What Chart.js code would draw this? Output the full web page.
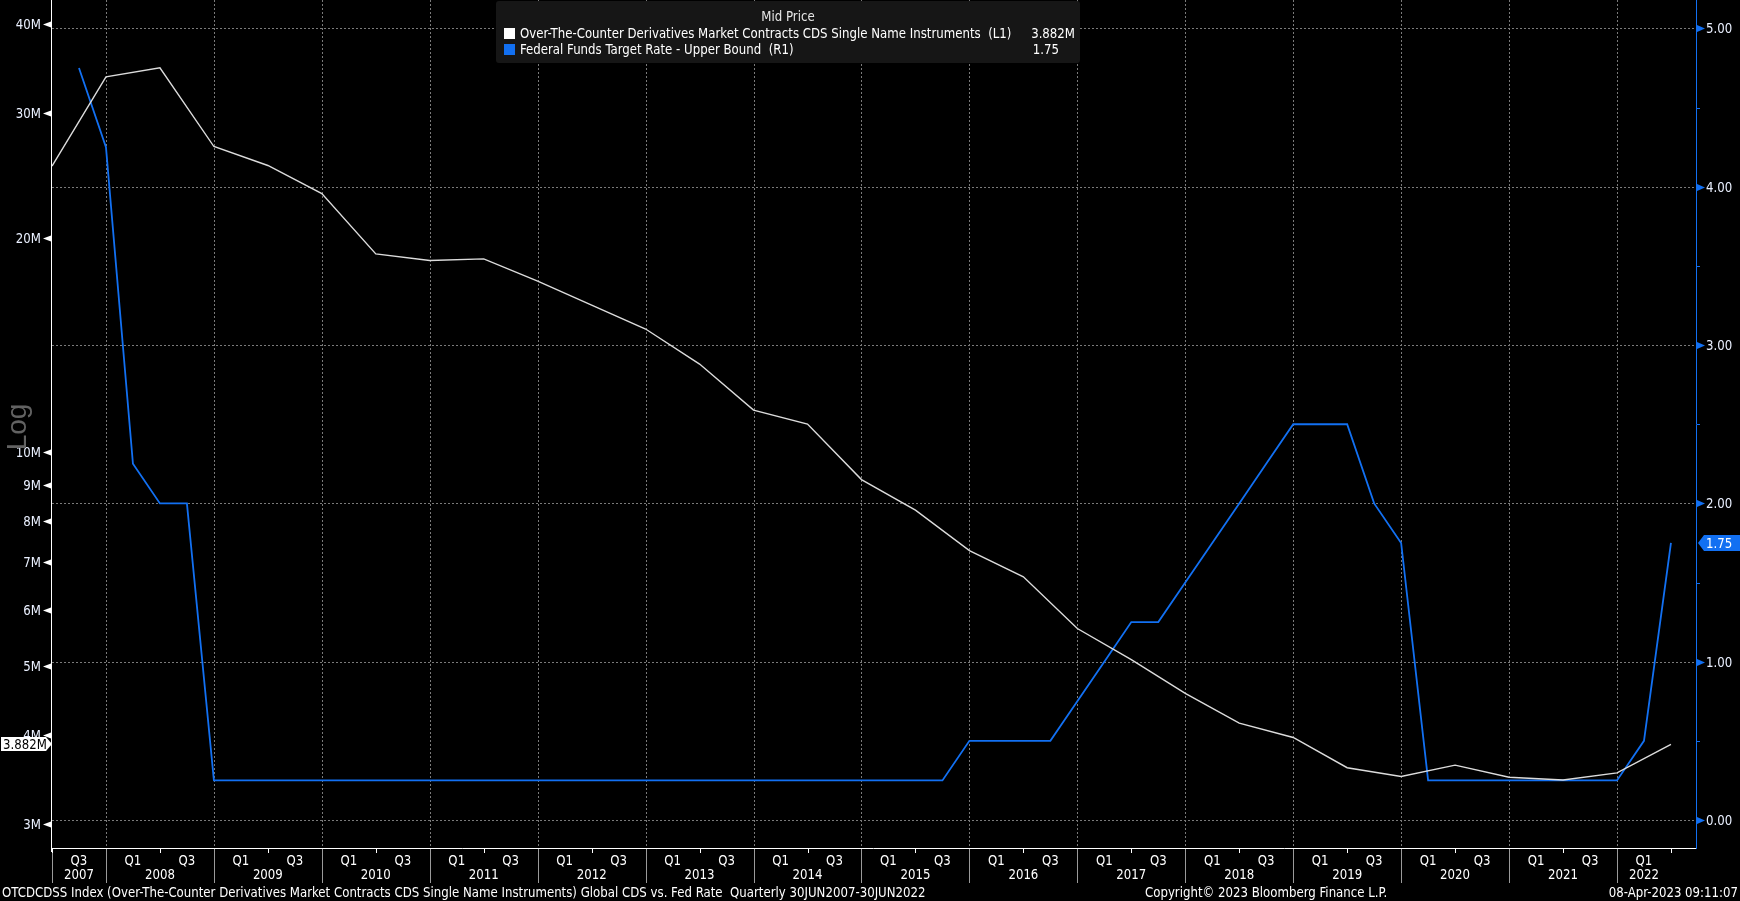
<!DOCTYPE html>
<html><head><meta charset="utf-8">
<script src="https://cdn.jsdelivr.net/npm/chart.js@4.4.1/dist/chart.umd.min.js"></script>
<style>html,body{margin:0;padding:0;background:#000;overflow:hidden}canvas{display:block}</style>
</head><body>
<canvas id="c" width="1740" height="901"></canvas>
<script>
// ---------- DATA ----------
const cdsDates = ['2007-06','2007-12','2008-06','2008-12','2009-06','2009-12','2010-06','2010-12',
  '2011-06','2011-12','2012-06','2012-12','2013-06','2013-12','2014-06','2014-12','2015-06','2015-12',
  '2016-06','2016-12','2017-06','2017-12','2018-06','2018-12','2019-06','2019-12','2020-06','2020-12',
  '2021-06','2021-12','2022-06'];
const cdsValues = [25.25, 33.7, 34.7, 26.9, 25.3, 23.1, 19.0, 18.6,
  18.7, 17.4, 16.1, 14.9, 13.3, 11.46, 10.95, 9.15, 8.29, 7.27,
  6.68, 5.65, 5.11, 4.58, 4.16, 3.97, 3.60, 3.50, 3.63, 3.49,
  3.46, 3.54, 3.882]; // millions
const fedDates = ['2007-09','2007-12',
  '2008-03','2008-06','2008-09','2008-12','2009-03','2009-06','2009-09','2009-12',
  '2010-03','2010-06','2010-09','2010-12','2011-03','2011-06','2011-09','2011-12',
  '2012-03','2012-06','2012-09','2012-12','2013-03','2013-06','2013-09','2013-12',
  '2014-03','2014-06','2014-09','2014-12','2015-03','2015-06','2015-09','2015-12',
  '2016-03','2016-06','2016-09','2016-12','2017-03','2017-06','2017-09','2017-12',
  '2018-03','2018-06','2018-09','2018-12','2019-03','2019-06','2019-09','2019-12',
  '2020-03','2020-06','2020-09','2020-12','2021-03','2021-06','2021-09','2021-12',
  '2022-03','2022-06'];
const fedValues = [4.75, 4.25,
  2.25, 2.00, 2.00, 0.25, 0.25, 0.25, 0.25, 0.25,
  0.25, 0.25, 0.25, 0.25, 0.25, 0.25, 0.25, 0.25,
  0.25, 0.25, 0.25, 0.25, 0.25, 0.25, 0.25, 0.25,
  0.25, 0.25, 0.25, 0.25, 0.25, 0.25, 0.25, 0.50,
  0.50, 0.50, 0.50, 0.75, 1.00, 1.25, 1.25, 1.50,
  1.75, 2.00, 2.25, 2.50, 2.50, 2.50, 2.00, 1.75,
  0.25, 0.25, 0.25, 0.25, 0.25, 0.25, 0.25, 0.25,
  0.50, 1.75];
const leftTicks = [3, 4, 5, 6, 7, 8, 9, 10, 20, 30, 40];
const rightTicks = [0, 1, 2, 3, 4, 5];
const rightMinorTicks = [0.5, 1.5, 2.5, 3.5, 4.5];
const years = [2007,2008,2009,2010,2011,2012,2013,2014,2015,2016,2017,2018,2019,2020,2021,2022];
const cdsName = 'Over-The-Counter Derivatives Market Contracts CDS Single Name Instruments  (L1)';
const fedName = 'Federal Funds Target Rate - Upper Bound  (R1)';
const cdsLast = '3.882M';
const fedLast = '1.75';
const footerLeft = 'OTCDCDSS Index (Over-The-Counter Derivatives Market Contracts CDS Single Name Instruments) Global CDS vs. Fed Rate  Quarterly 30JUN2007-30JUN2022';
const footerMid = 'Copyright\u00A9 2023 Bloomberg Finance L.P.';
const footerRight = '08-Apr-2023 09:11:07';

// ---------- HELPERS ----------
const FONT = "'Liberation Sans Narrow','DejaVu Sans Condensed','Arial Narrow',sans-serif";
const SX = 0.935;
const WHITE = '#dcdcdc';
const BLUE = '#1270f2';
function decYear(s){ const [y,m] = s.split('-').map(Number); return y + m/12; }
const cdsData = cdsDates.map((d,i)=>({x:decYear(d), y:cdsValues[i]}));
const fedData = fedDates.map((d,i)=>({x:decYear(d), y:fedValues[i]}));
function txt(ctx, s, x, y, align){
  ctx.save(); ctx.translate(x, y); ctx.scale(SX, 1);
  ctx.textAlign = align; ctx.textBaseline = 'middle';
  ctx.fillText(s, 0, 0); ctx.restore();
}

const deco = {
  id: 'deco',
  beforeDatasetsDraw(chart){
    const {ctx, chartArea:a, scales:{x, y1}} = chart;
    ctx.save();
    ctx.strokeStyle = '#7a7a7a'; ctx.lineWidth = 1; ctx.setLineDash([2,2]);
    years.forEach(yr=>{
      if (yr <= 2007) return;
      const px = Math.round(x.getPixelForValue(yr)) + 0.5;
      ctx.beginPath(); ctx.moveTo(px, a.top); ctx.lineTo(px, a.bottom); ctx.stroke();
    });
    rightTicks.forEach(v=>{
      const py = Math.round(y1.getPixelForValue(v)) + 0.5;
      ctx.beginPath(); ctx.moveTo(a.left, py); ctx.lineTo(a.right, py); ctx.stroke();
    });
    ctx.restore();
  },
  afterDatasetsDraw(chart){
    const {ctx, chartArea:a, scales:{x, y, y1}} = chart;
    ctx.save();
    ctx.setLineDash([]);
    ctx.lineWidth = 1;
    ctx.strokeStyle = '#ffffff';
    ctx.beginPath(); ctx.moveTo(a.left-0.5, a.top); ctx.lineTo(a.left-0.5, a.bottom+4); ctx.stroke();
    ctx.beginPath(); ctx.moveTo(a.left-1, a.bottom+0.5); ctx.lineTo(a.right, a.bottom+0.5); ctx.stroke();
    ctx.strokeStyle = BLUE;
    ctx.beginPath(); ctx.moveTo(a.right+0.5, a.top); ctx.lineTo(a.right+0.5, a.bottom+1); ctx.stroke();

    ctx.font = '14px ' + FONT;
    // left ticks
    leftTicks.forEach(v=>{
      const py = Math.round(y.getPixelForValue(v));
      ctx.fillStyle = '#ffffff';
      ctx.beginPath(); ctx.moveTo(a.left-9, py+0.5); ctx.lineTo(a.left-1, py-2.5); ctx.lineTo(a.left-1, py+3.5); ctx.closePath(); ctx.fill();
      ctx.fillStyle = '#eaf0ff';
      txt(ctx, v + 'M', a.left-11, py+1, 'right');
    });
    // right ticks
    rightTicks.forEach(v=>{
      const py = Math.round(y1.getPixelForValue(v));
      ctx.fillStyle = BLUE;
      ctx.beginPath(); ctx.moveTo(a.right+1, py-3); ctx.lineTo(a.right+9, py+0.5); ctx.lineTo(a.right+1, py+4); ctx.closePath(); ctx.fill();
      ctx.fillStyle = '#eaf0ff';
      txt(ctx, v.toFixed(2), a.right+10, py+1, 'left');
    });
    ctx.strokeStyle = BLUE;
    rightMinorTicks.forEach(v=>{
      const py = Math.round(y1.getPixelForValue(v)) + 0.5;
      ctx.beginPath(); ctx.moveTo(a.right+1, py); ctx.lineTo(a.right+4, py); ctx.stroke();
    });

    // x axis: separators, ticks, labels
    ctx.strokeStyle = '#9a9a9a';
    years.forEach(yr=>{
      const px = Math.round(x.getPixelForValue(Math.max(yr, x.min))) + 0.5;
      ctx.beginPath(); ctx.moveTo(px, a.bottom+1); ctx.lineTo(px, a.bottom+35); ctx.stroke();
    });
    ctx.strokeStyle = '#ffffff';
    years.forEach(yr=>{
      const v = yr + 0.5;
      if (v > x.max) return;
      const px = Math.round(x.getPixelForValue(v)) + 0.5;
      ctx.beginPath(); ctx.moveTo(px, a.bottom+1); ctx.lineTo(px, a.bottom+5); ctx.stroke();
    });
    ctx.fillStyle = '#ffffff';
    years.forEach(yr=>{
      if (yr > 2007) txt(ctx, 'Q1', x.getPixelForValue(yr+0.25), a.bottom+13, 'center');
      if (yr < 2022) txt(ctx, 'Q3', x.getPixelForValue(yr+0.75), a.bottom+13, 'center');
      const lo = Math.max(yr, 2007.5), hi = Math.min(yr+1, 2022.5);
      txt(ctx, String(yr), x.getPixelForValue((lo+hi)/2), a.bottom+27, 'center');
    });

    // footer
    txt(ctx, footerLeft, 2, 893, 'left');
    txt(ctx, footerMid, 1145, 893, 'left');
    txt(ctx, footerRight, 1738, 893, 'right');

    // Log label
    ctx.save();
    ctx.translate(26, 427); ctx.rotate(-Math.PI/2);
    ctx.font = '28px "Liberation Sans", sans-serif';
    ctx.fillStyle = '#626262'; ctx.textAlign = 'center'; ctx.textBaseline = 'alphabetic';
    ctx.fillText('Log', 0, 0);
    ctx.restore();

    // last value box left (CDS)
    const cy = Math.round(y.getPixelForValue(cdsValues[cdsValues.length-1]));
    ctx.fillStyle = '#ffffff';
    ctx.beginPath(); ctx.moveTo(1, cy-7); ctx.lineTo(46, cy-7); ctx.lineTo(52, cy); ctx.lineTo(46, cy+7); ctx.lineTo(1, cy+7); ctx.closePath(); ctx.fill();
    ctx.fillStyle = '#000000';
    txt(ctx, cdsLast, 3, cy+1, 'left');
    // last value box right (Fed)
    const fy = Math.round(y1.getPixelForValue(fedValues[fedValues.length-1]));
    ctx.fillStyle = BLUE;
    ctx.beginPath(); ctx.moveTo(a.right+2, fy); ctx.lineTo(a.right+8, fy-8); ctx.lineTo(1740, fy-8); ctx.lineTo(1740, fy+8); ctx.lineTo(a.right+8, fy+8); ctx.closePath(); ctx.fill();
    ctx.fillStyle = '#ffffff';
    txt(ctx, fedLast, a.right+10, fy+1, 'left');

    // legend box
    ctx.fillStyle = '#161616';
    ctx.beginPath(); ctx.roundRect(496, 1, 584, 62, 3); ctx.fill();
    ctx.fillStyle = '#e6e6e6';
    txt(ctx, 'Mid Price', 788, 17, 'center');
    ctx.fillStyle = '#ffffff'; ctx.fillRect(504, 28, 11, 11);
    ctx.fillStyle = BLUE; ctx.fillRect(504, 44, 11, 11);
    ctx.fillStyle = '#ffffff';
    txt(ctx, cdsName, 520, 34, 'left');
    txt(ctx, fedName, 520, 50, 'left');
    txt(ctx, cdsLast, 1075, 34, 'right');
    txt(ctx, fedLast, 1059, 50, 'right');
    ctx.restore();
  }
};

new Chart(document.getElementById('c'), {
  type: 'line',
  data: {
    datasets: [
      { label: cdsName, data: cdsData, yAxisID: 'y', borderColor: WHITE, borderWidth: 1.4, pointRadius: 0, tension: 0 },
      { label: fedName, data: fedData, yAxisID: 'y1', borderColor: BLUE, borderWidth: 1.8, pointRadius: 0, tension: 0 }
    ]
  },
  options: {
    responsive: false, animation: false, devicePixelRatio: 1,
    layout: { padding: { left: 52, right: 44, top: 0, bottom: 53 } },
    plugins: { legend: { display: false }, tooltip: { enabled: false } },
    scales: {
      x: { type: 'linear', display: false, min: 2007.5, max: 2022.732 },
      y: { type: 'logarithmic', display: false, min: 2.776, max: 43.23 },
      y1: { type: 'linear', display: false, min: -0.177, max: 5.18 }
    }
  },
  plugins: [deco]
});
</script>
</body></html>
